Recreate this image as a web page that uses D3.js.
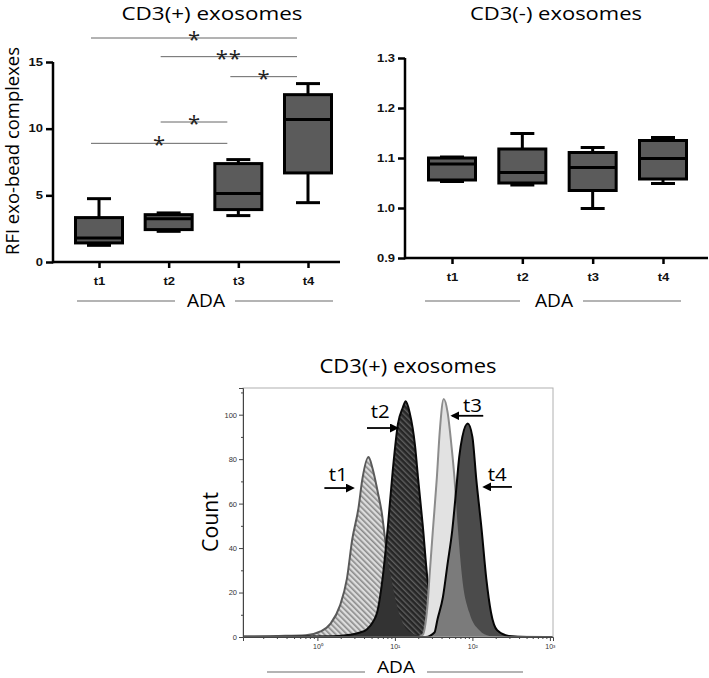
<!DOCTYPE html>
<html><head><meta charset="utf-8">
<script src="https://cdn.jsdelivr.net/npm/d3@7"></script>
<style>
html,body{margin:0;padding:0;background:#fff;}
svg{display:block;}
</style></head>
<body>
<script>
// ---------- data ----------
const categories = ['t1','t2','t3','t4'];

// CD3(+) exosomes, RFI exo-bead complexes
const posMin = [1.25, 2.30, 3.48, 4.45];
const posQ1  = [1.43, 2.43, 3.93, 6.68];
const posMed = [1.80, 3.25, 5.13, 10.68];
const posQ3  = [3.33, 3.55, 7.38, 12.55];
const posMax = [4.75, 3.68, 7.68, 13.38];
const posTicks = [0, 5, 10, 15];

// CD3(-) exosomes
const negMin = [1.053, 1.046, 0.999, 1.049];
const negQ1  = [1.056, 1.050, 1.035, 1.058];
const negMed = [1.088, 1.071, 1.081, 1.099];
const negQ3  = [1.100, 1.118, 1.111, 1.135];
const negMax = [1.102, 1.149, 1.121, 1.141];
const negTicks = [0.9, 1.0, 1.1, 1.2, 1.3];

// significance brackets (CD3(+))
const sigFrom  = ['t1','t2','t3','t2','t1'];
const sigTo    = ['t4','t4','t4','t3','t3'];
const sigLevel = [16.8, 15.4, 13.9, 10.5, 8.9];
const sigLabel = ['*','**','*','*','*'];

// histogram: [log10(ADA), count]
const histT1 = [[-0.96,0.3],[-0.5,0.5],[-0.15,0.8],[0.04,2.5],[0.17,6],[0.29,14],[0.38,26],[0.45,44],[0.53,58],[0.58,71],[0.66,81],[0.71,76],[0.78,65],[0.83,56],[0.87,45],[0.9,36],[0.95,27],[1.0,18],[1.06,10],[1.12,5],[1.2,2],[1.35,0.5],[1.6,0.2],[3.04,0]];
const histT2 = [[-0.96,0],[0.2,0.3],[0.42,1],[0.55,2],[0.64,3.5],[0.72,7],[0.77,11],[0.85,29],[0.91,50],[0.97,74],[1.04,96],[1.1,103],[1.14,106],[1.19,101],[1.26,86],[1.3,71],[1.36,50],[1.42,26],[1.49,11],[1.58,3],[1.7,0.8],[1.85,0],[3.04,0]];
const histT3 = [[-0.96,0],[1.3,0],[1.36,1],[1.39,5],[1.42,14],[1.45,29],[1.49,48],[1.54,71],[1.58,93],[1.63,107],[1.68,101],[1.73,86],[1.77,71],[1.81,50],[1.87,26],[1.96,11],[2.09,3],[2.22,0.5],[2.5,0],[3.04,0]];
const histT4 = [[-0.96,0],[1.4,0],[1.51,2],[1.55,8],[1.62,18],[1.68,33],[1.74,48],[1.79,66],[1.83,81],[1.87,90],[1.94,96],[2.0,90],[2.05,71],[2.12,48],[2.18,26],[2.24,11],[2.32,3],[2.47,0.5],[2.7,0],[3.04,0]];
const histYTicks = [0, 20, 40, 60, 80, 100];
const histXTicks = [1, 10, 100, 1000];
const histXLabels = ['10\u2070','10\u00B9','10\u00B2','10\u00B3'];

// arrow annotations (log10 ADA positions, counts)
const annLabel = ['t1','t2','t3','t4'];
const annTail  = [0.09, 0.64, 2.14, 2.51];
const annTip   = [0.46, 1.03, 1.74, 2.15];
const annCount = [67, 94, 99.5, 67.5];
const annTextX = [0.27, 0.81, 2.0, 2.32];
const annTextY = [70, 98.6, 101, 70];

// ---------- drawing ----------
const W = 709, H = 678, SX = 1.3;
const FONT = "'Open Sans', sans-serif";
const TICKFONT = "'Liberation Sans', Arial, sans-serif";
const svg = d3.select('body').append('svg').attr('width', W).attr('height', H);

const defs = svg.append('defs');
function hatch(id, bg, fg, sw) {
  const p = defs.append('pattern').attr('id', id).attr('patternUnits','userSpaceOnUse')
    .attr('width', 4).attr('height', 4).attr('patternTransform','rotate(-45)');
  p.append('rect').attr('width',4).attr('height',4).attr('fill',bg);
  p.append('rect').attr('x',0).attr('y',0).attr('width',sw).attr('height',4).attr('fill',fg);
}
hatch('hatchLight', '#dcdcdc', '#8a8a8a', 1.6);
hatch('hatchDark', '#262626', '#5e5e5e', 1.4);

function bigText(g, txt, cx, base, fs, len) {
  return g.append('text').attr('x', cx).attr('y', base).attr('text-anchor','middle')
    .attr('font-family', FONT).attr('font-size', fs).attr('fill','#000')
    .attr('textLength', len).attr('lengthAdjust','spacingAndGlyphs').text(txt);
}
function adaLabel(cx, base, fs, l1, l2, r1, r2, ly) {
  bigText(svg, 'ADA', cx, base, fs, 38);
  svg.append('line').attr('x1', l1).attr('x2', l2).attr('y1', ly).attr('y2', ly).attr('stroke','#6a6a6a').attr('stroke-width',1.2);
  svg.append('line').attr('x1', r1).attr('x2', r2).attr('y1', ly).attr('y2', ly).attr('stroke','#6a6a6a').attr('stroke-width',1.2);
}
function styleTicks(axisG, anchorShift) {
  axisG.select('.domain').remove();
  axisG.selectAll('.tick line').attr('stroke','#000').attr('stroke-width',2.5);
  axisG.selectAll('.tick text').attr('font-family', TICKFONT).attr('font-weight','bold')
    .attr('font-size', 10).attr('fill','#111')
    .attr('transform', `scale(${SX},1)`);
  if (anchorShift) axisG.selectAll('.tick text').attr('x', anchorShift / SX);
}

function boxPanel(xs, ys, mins, q1s, meds, q3s, maxs, xLeft, xRight, yTicks, fmt) {
  const g = svg.append('g');
  const ax = g.append('g').attr('transform', `translate(${xLeft},0)`)
    .call(d3.axisLeft(ys).tickValues(yTicks).tickSize(7).tickPadding(3).tickFormat(fmt));
  styleTicks(ax, -10);
  const bx = g.append('g').attr('transform', `translate(0,${ys.range()[0]})`)
    .call(d3.axisBottom(xs).tickSize(6).tickPadding(10));
  styleTicks(bx, null);
  bx.selectAll('.tick text').attr('dy','0.71em');
  g.append('line').attr('x1', xLeft).attr('x2', xLeft).attr('y1', ys.range()[0]+1.25).attr('y2', ys.range()[1])
    .attr('stroke','#000').attr('stroke-width',2.5);
  g.append('line').attr('x1', xLeft).attr('x2', xRight).attr('y1', ys.range()[0]).attr('y2', ys.range()[0])
    .attr('stroke','#000').attr('stroke-width',2.5);
  const bw = 47, cw = 24;
  categories.forEach((c, i) => {
    const cx = xs(c);
    const bg = g.append('g').attr('stroke','#000').attr('stroke-width',3);
    bg.append('line').attr('x1',cx).attr('x2',cx).attr('y1',ys(maxs[i])).attr('y2',ys(q3s[i]));
    bg.append('line').attr('x1',cx).attr('x2',cx).attr('y1',ys(mins[i])).attr('y2',ys(q1s[i]));
    bg.append('line').attr('x1',cx-cw/2).attr('x2',cx+cw/2).attr('y1',ys(maxs[i])).attr('y2',ys(maxs[i]));
    bg.append('line').attr('x1',cx-cw/2).attr('x2',cx+cw/2).attr('y1',ys(mins[i])).attr('y2',ys(mins[i]));
    bg.append('rect').attr('x',cx-bw/2).attr('width',bw).attr('y',ys(q3s[i])).attr('height',ys(q1s[i])-ys(q3s[i]))
      .attr('fill','#5b5b5b');
    bg.append('line').attr('x1',cx-bw/2).attr('x2',cx+bw/2).attr('y1',ys(meds[i])).attr('y2',ys(meds[i]));
  });
  return g;
}

// ---- Panel A ----
const xA = d3.scalePoint().domain(categories).range([99, 308]);
const yA = d3.scaleLinear().domain([0, 15]).range([262, 62]);
const gA = boxPanel(xA, yA, posMin, posQ1, posMed, posQ3, posMax, 53, 340, posTicks, d3.format('d'));
bigText(svg, 'CD3(+) exosomes', 212, 19.5, 18, 181);
svg.append('text').attr('transform','translate(19,151) scale(1.1,1) rotate(-90)').attr('text-anchor','middle')
  .attr('font-family', FONT).attr('font-size', 16.5).attr('textLength', 208).attr('lengthAdjust','spacingAndGlyphs')
  .text('RFI exo-bead complexes');
adaLabel(206, 307, 18.5, 77, 175, 235, 333, 301);
sigFrom.forEach((f, i) => {
  const x1 = xA(f) - 8, x2 = xA(sigTo[i]) - 11, yy = yA(sigLevel[i]);
  gA.append('line').attr('x1',x1).attr('x2',x2).attr('y1',yy).attr('y2',yy).attr('stroke','#666').attr('stroke-width',1);
  gA.append('text').attr('x',(x1+x2)/2).attr('y', yy + 9).attr('text-anchor','middle')
    .attr('font-family', FONT).attr('font-size', 22).attr('letter-spacing', sigLabel[i].length>1 ? 1 : 0)
    .attr('fill','#222').text(sigLabel[i]);
});

// ---- Panel B ----
const xB = d3.scalePoint().domain(categories).range([452, 663]);
const yB = d3.scaleLinear().domain([0.9, 1.3]).range([258, 58]);
boxPanel(xB, yB, negMin, negQ1, negMed, negQ3, negMax, 405, 708, negTicks, d3.format('.1f'));
bigText(svg, 'CD3(-) exosomes', 556, 19.5, 18, 172);
adaLabel(554, 307, 18.5, 425, 520, 583, 681, 301);

// ---- Panel C: histogram ----
const xC = d3.scaleLog().domain([Math.pow(10,-0.96), Math.pow(10,3.04)]).range([243, 553]);
const yC = d3.scaleLinear().domain([0, 112]).range([637, 388]);
const gC = svg.append('g');
defs.append('clipPath').attr('id','frameClip').append('rect')
  .attr('x',243).attr('y',388).attr('width',310).attr('height',249);
const area = d3.area().x(d => xC(Math.pow(10, d[0]))).y0(yC(0)).y1(d => yC(d[1])).curve(d3.curveMonotoneX);
const line = d3.line().x(d => xC(Math.pow(10, d[0]))).y(d => yC(d[1])).curve(d3.curveMonotoneX);
defs.append('clipPath').attr('id','clipT2').append('path').attr('d', area(histT2));
defs.append('clipPath').attr('id','clipT4').append('path').attr('d', area(histT4));
const hg = gC.append('g').attr('clip-path','url(#frameClip)');
hg.append('path').attr('d', area(histT1)).attr('fill','url(#hatchLight)');
hg.append('path').attr('d', line(histT1)).attr('fill','none').attr('stroke','#5a5a5a').attr('stroke-width',2);
hg.append('path').attr('d', area(histT2)).attr('fill','url(#hatchDark)');
hg.append('g').attr('clip-path','url(#clipT2)').append('path').attr('d', area(histT1)).attr('fill','#333');
hg.append('path').attr('d', line(histT2)).attr('fill','none').attr('stroke','#0a0a0a').attr('stroke-width',2);
hg.append('path').attr('d', area(histT3)).attr('fill','#e2e2e2');
hg.append('path').attr('d', line(histT3)).attr('fill','none').attr('stroke','#8c8c8c').attr('stroke-width',2);
hg.append('path').attr('d', area(histT4)).attr('fill','#4b4b4b');
hg.append('g').attr('clip-path','url(#clipT4)').append('path').attr('d', area(histT3)).attr('fill','#7b7b7b');
hg.append('path').attr('d', line(histT4)).attr('fill','none').attr('stroke','#050505').attr('stroke-width',2);

gC.append('rect').attr('x',243).attr('y',388).attr('width',310).attr('height',249)
  .attr('fill','none').attr('stroke','#b0b0b0').attr('stroke-width',1);
const yax = gC.append('g').attr('transform','translate(243,0)')
  .call(d3.axisLeft(yC).tickValues(histYTicks).tickSize(4).tickPadding(2));
yax.select('.domain').attr('stroke','#444');
yax.selectAll('.tick line').attr('stroke','#444');
yax.selectAll('.tick text').attr('font-family', TICKFONT).attr('font-size',7.5).attr('fill','#333');
gC.append('g').attr('transform','translate(243,0)')
  .call(d3.axisLeft(yC).tickValues(histYTicks.map(v => v + 10)).tickSize(2).tickFormat(''))
  .call(g => g.select('.domain').remove()).selectAll('line').attr('stroke','#444');
const xax = gC.append('g').attr('transform','translate(0,637)')
  .call(d3.axisBottom(xC).tickValues(histXTicks).tickSize(4).tickPadding(3).tickFormat((d, i) => histXLabels[i]));
xax.select('.domain').attr('stroke','#444');
xax.selectAll('.tick line').attr('stroke','#444');
xax.selectAll('.tick text').attr('font-family', TICKFONT).attr('font-size',7).attr('fill','#333');
const minor = xC.ticks().filter(v => histXTicks.indexOf(v) < 0);
gC.append('g').attr('transform','translate(0,637)')
  .call(d3.axisBottom(xC).tickValues(minor).tickSize(2).tickFormat(''))
  .call(g => g.select('.domain').remove()).selectAll('line').attr('stroke','#444');

bigText(svg, 'CD3(+) exosomes', 408, 373, 20, 177);
svg.append('text').attr('transform','translate(218,522) rotate(-90)').attr('text-anchor','middle')
  .attr('font-family', FONT).attr('font-size', 21).attr('textLength', 60).attr('lengthAdjust','spacingAndGlyphs')
  .text('Count');
adaLabel(396, 672.5, 17, 267, 365, 427, 523, 672);

defs.append('marker').attr('id','arrowHead').attr('viewBox','0 0 10 10').attr('refX',8).attr('refY',5)
  .attr('markerWidth',5).attr('markerHeight',5).attr('orient','auto-start-reverse')
  .append('path').attr('d','M0,0 L10,5 L0,10 Z').attr('fill','#000');
annLabel.forEach((lab, i) => {
  const yy = yC(annCount[i]);
  gC.append('line').attr('x1', xC(Math.pow(10, annTail[i]))).attr('x2', xC(Math.pow(10, annTip[i])))
    .attr('y1', yy).attr('y2', yy).attr('stroke','#000').attr('stroke-width',1.8).attr('marker-end','url(#arrowHead)');
  bigText(gC, lab, xC(Math.pow(10, annTextX[i])), yC(annTextY[i]), 19, 19);
});
</script>
</body></html>
